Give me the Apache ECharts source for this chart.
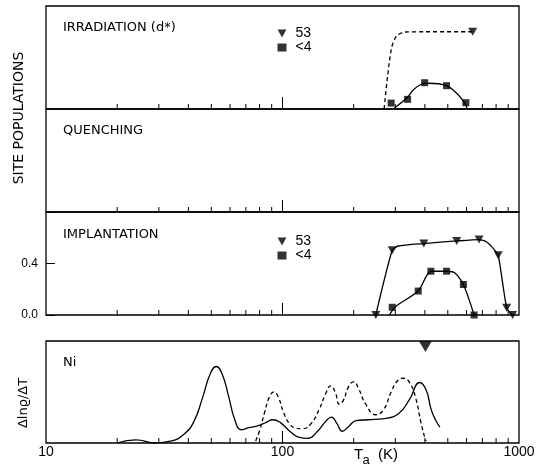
<!DOCTYPE html>
<html>
<head>
<meta charset="utf-8">
<script src="https://cdn.jsdelivr.net/npm/echarts@6/dist/echarts.min.js"></script>
<style>
html, body { margin: 0; background: #fff; }
#chart { width: 538px; height: 475px; }
</style>
</head>
<body>
<div id="chart"></div>
<script>
// panel 1: irradiation (d*)
var irr53Points = [[637, 0.6]];
var irr53Curve = [[269, 0], [278, 0.25], [290, 0.484], [304, 0.567], [330, 0.598], [400, 0.6], [637, 0.6]];
var irrLt4Points = [[288, 0.046], [338, 0.075], [399, 0.204], [494, 0.181], [596, 0.049]];
var irrLt4Curve = [[294, 0], [338, 0.091], [357, 0.148], [388, 0.194], [414, 0.2], [494, 0.181], [545, 0.122], [591, 0.044], [604, 0]];

// panel 3: implantation
var imp53Points = [[248, 0], [291, 0.503], [396, 0.555], [545, 0.575], [678, 0.586], [817, 0.464], [887, 0.056], [940, 0]];
var imp53Curve = [[248, 0], [291, 0.503], [309, 0.536], [396, 0.555], [545, 0.575], [678, 0.586], [730, 0.567], [779, 0.516], [817, 0.464], [887, 0.056], [940, 0]];
var impLt4Points = [[291, 0.06], [375, 0.186], [424, 0.34], [494, 0.34], [582, 0.237], [646, 0]];
var impLt4Curve = [[283, 0], [300, 0.065], [375, 0.186], [424, 0.34], [494, 0.34], [536, 0.327], [582, 0.237], [646, 0]];

// panel 4: Ni resistivity recovery
var niSolid = [[20, 0], [24, 0.03], [29, 0], [34, 0.02], [38, 0.08], [42, 0.2], [46, 0.45], [49.5, 0.68],
  [52.5, 0.75], [55.5, 0.68], [59, 0.47], [63, 0.22], [67, 0.13], [72, 0.15], [79, 0.17], [85, 0.2],
  [91, 0.228], [98, 0.2], [108, 0.11], [118, 0.055], [128, 0.045], [140, 0.11], [152, 0.21], [161, 0.254],
  [170, 0.19], [179, 0.115], [190, 0.16], [205, 0.22], [230, 0.228], [270, 0.24], [310, 0.29], [345, 0.43],
  [380, 0.593], [405, 0.52], [425, 0.33], [445, 0.22], [463, 0.156]];
var niDashed = [[77, 0.02], [80, 0.12], [84, 0.3], [88, 0.45], [92, 0.5], [96, 0.45], [101, 0.3], [107, 0.19],
  [114, 0.145], [122, 0.14], [132, 0.19], [143, 0.33], [152, 0.48], [160, 0.56], [167, 0.5], [174, 0.38],
  [181, 0.42], [190, 0.55], [200, 0.6], [210, 0.53], [225, 0.38], [248, 0.277], [268, 0.33], [288, 0.5],
  [308, 0.615], [326, 0.635], [345, 0.59], [365, 0.45], [385, 0.2], [400, 0.05], [405, 0.02]];
var niMarker = [[402, 1]];

// ticks
var minorTicks = [20, 30, 40, 50, 60, 70, 80, 90, 200, 300, 400, 500, 600, 700, 800, 900];
var majorTicks = [100];

var wordFont = '"DejaVu Sans", sans-serif';
var numFont = '"Liberation Sans", Arial, sans-serif';
var downTri = 'path://M0,0 L10,0 L5,9 Z';

var chart = echarts.init(document.getElementById('chart'));

var gridBoxes = [
  { top: 6, height: 103 },
  { top: 109, height: 103 },
  { top: 212, height: 103 },
  { top: 341, height: 102 }
];

function tickSeries(gi, values, len) {
  return {
    type: 'custom',
    xAxisIndex: gi,
    yAxisIndex: gi,
    silent: true,
    clip: false,
    z: 5,
    data: values.map(function (v) { return [v, 0]; }),
    renderItem: function (params, api) {
      var p = api.coord([api.value(0), 0]);
      return {
        type: 'line',
        shape: { x1: p[0], y1: p[1], x2: p[0], y2: p[1] - len },
        style: { stroke: '#000', lineWidth: 1 }
      };
    }
  };
}

function curve(gi, data, dashed, smooth) {
  return {
    type: 'line',
    xAxisIndex: gi,
    yAxisIndex: gi,
    data: data,
    smooth: smooth,
    showSymbol: false,
    symbol: 'none',
    silent: true,
    lineStyle: { color: '#000', width: 1.3, type: dashed ? [4, 3] : 'solid' }
  };
}

function marks(gi, name, data, sym, size) {
  return {
    type: 'scatter',
    name: name,
    xAxisIndex: gi,
    yAxisIndex: gi,
    data: data,
    symbol: sym,
    symbolSize: size,
    clip: false,
    z: 4,
    itemStyle: { color: '#000' }
  };
}

var series = [];
for (var g = 0; g < 4; g++) {
  series.push(tickSeries(g, minorTicks, 5));
  series.push(tickSeries(g, majorTicks, 12));
}
series.push(curve(0, irr53Curve, true, 0.3));
series.push(curve(0, irrLt4Curve, false, 0.3));
series.push(marks(0, '53', irr53Points, downTri, [9, 8]));
series.push(marks(0, '<4', irrLt4Points, 'rect', 7));
series.push(curve(2, imp53Curve, false, 0.2));
series.push(curve(2, impLt4Curve, false, 0.25));
series.push(marks(2, '53', imp53Points, downTri, [9, 8]));
series.push(marks(2, '<4', impLt4Points, 'rect', 7));
series.push(curve(3, niSolid, false, 0.5));
series.push(curve(3, niDashed, true, 0.5));
series.push({
  type: 'scatter',
  xAxisIndex: 3,
  yAxisIndex: 3,
  data: niMarker,
  symbol: downTri,
  symbolSize: [13, 11],
  symbolOffset: [0, 5.5],
  clip: false,
  itemStyle: { color: '#000' }
});

function legendAt(top) {
  return {
    orient: 'vertical',
    left: 277.5,
    top: top,
    padding: 0,
    itemWidth: 9,
    itemHeight: 8,
    itemGap: 0,
    selectedMode: false,
    data: [{ name: '53', icon: downTri }, { name: '<4', icon: 'rect' }],
    textStyle: { fontSize: 14, fontFamily: numFont, color: '#000', lineHeight: 12.5, padding: [0, 0, 0, 4] }
  };
}

function label(text, x, y, size, font) {
  return {
    type: 'text',
    x: x,
    y: y,
    style: { text: text, fill: '#000', font: size + 'px ' + (font || wordFont), verticalAlign: 'middle' }
  };
}

chart.setOption({
  animation: false,
  backgroundColor: '#fff',
  grid: gridBoxes.map(function (b) {
    return { left: 46, right: 19, top: b.top, height: b.height, show: true, borderColor: '#000', borderWidth: 1.3 };
  }),
  xAxis: [0, 1, 2, 3].map(function (i) {
    return {
      type: 'log',
      logBase: 10,
      gridIndex: i,
      min: 10,
      max: 1000,
      axisLine: { show: false },
      axisTick: { show: false },
      splitLine: { show: false },
      axisLabel: {
        show: i === 3,
        margin: 2,
        fontSize: 14,
        fontFamily: numFont,
        color: '#000',
        formatter: function (v) { return String(Math.round(v)); }
      }
    };
  }),
  yAxis: [0, 1, 2, 3].map(function (i) {
    var impl = i === 2;
    return {
      type: 'value',
      gridIndex: i,
      min: 0,
      max: i === 3 ? 1 : 0.8,
      interval: i === 3 ? 1 : 0.4,
      axisLine: { show: false },
      splitLine: { show: false },
      axisTick: { show: impl, inside: true, length: 9, lineStyle: { color: '#000', width: 1 } },
      axisLabel: {
        show: impl,
        margin: 8,
        fontSize: 12,
        fontFamily: numFont,
        color: '#000',
        formatter: function (v) { return v > 0.5 ? '' : v.toFixed(1); }
      }
    };
  }),
  legend: [legendAt(26.5), legendAt(234.5)],
  graphic: [
    label('IRRADIATION (d*)', 63, 27.5, 13),
    label('QUENCHING', 63, 130.5, 13),
    label('IMPLANTATION', 63, 234.5, 13),
    label('Ni', 63, 362.5, 13),
    {
      type: 'text', x: 19.5, y: 118, rotation: Math.PI / 2,
      style: { text: 'SITE POPULATIONS', fill: '#000', font: '14px ' + wordFont, align: 'center', verticalAlign: 'middle' }
    },
    {
      type: 'text', x: 24, y: 403, rotation: Math.PI / 2,
      style: { text: 'Δlnϱ/ΔT', fill: '#000', font: '13px ' + wordFont, align: 'center', verticalAlign: 'middle' }
    },
    label('T', 354, 455, 15, numFont),
    label('a', 362.5, 460.5, 13, numFont),
    label('(K)', 378, 455, 15, numFont)
  ],
  series: series
});
</script>
</body>
</html>
